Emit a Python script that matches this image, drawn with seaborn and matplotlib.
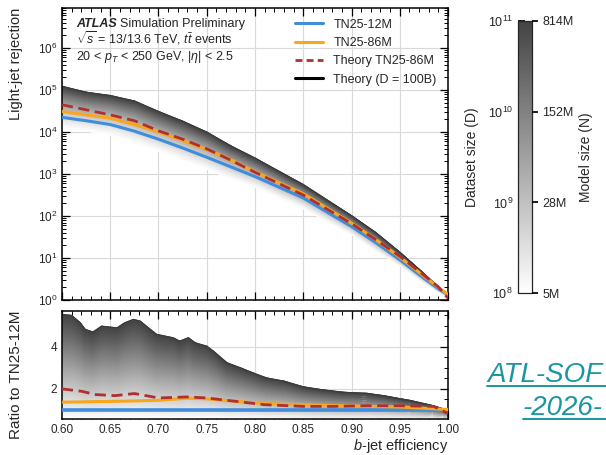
import numpy as np
import pandas as pd
import seaborn as sns
import matplotlib
matplotlib.use("Agg")
from matplotlib import pyplot as plt
from matplotlib.colors import LinearSegmentedColormap, LogNorm
from matplotlib.lines import Line2D
from matplotlib.ticker import MultipleLocator, LogLocator, NullFormatter, NullLocator, FixedLocator

# ---- values ----
eff = [0.60, 0.625, 0.65, 0.675, 0.70, 0.725, 0.75, 0.775, 0.80,
       0.85, 0.90, 0.925, 0.95, 0.975, 0.99, 1.0]
rej_12m = [22400, 18600, 15100, 10500, 6760, 4170, 2510, 1480, 871,
           269, 56, 23.4, 9.1, 3.3, 1.86, 1.32]
rej_86m = [30900, 25700, 21400, 15100, 10000, 6310, 3850, 2190, 1120,
           339, 67.6, 27.5, 10.5, 3.7, 2.0, 1.35]
rej_theory_86m = [44700, 33900, 25700, 18600, 10700, 6760, 3980, 2140, 1100,
                  316, 66, 27.5, 11.0, 3.9, 2.04, 1.10]
rej_theory_100b = [123000, 89000, 74100, 55000, 30900, 18200, 10000, 4680, 2400,
                   562, 102, 40.7, 13.8, 4.27, 2.04, 1.29]
rej_shade_low = [12500, 10500, 8500, 5500, 3500, 2100, 1300, 760, 480,
                 150, 36, 15, 6.5, 2.6, 1.6, 1.25]

ratio_eff_band = [0.600, 0.610, 0.619, 0.624, 0.632, 0.641, 0.657, 0.665, 0.674,
                  0.681, 0.698, 0.715, 0.722, 0.731, 0.738, 0.750, 0.757, 0.771,
                  0.785, 0.798, 0.812, 0.830, 0.850, 0.868, 0.892, 0.916, 0.933,
                  0.961, 0.985, 0.995, 1.0]
ratio_theory_100b = [5.54, 5.49, 5.14, 4.83, 4.70, 4.98, 4.90, 5.14, 5.30,
                     5.22, 4.59, 4.43, 4.27, 4.43, 4.19, 4.03, 3.79, 3.24,
                     3.00, 2.76, 2.52, 2.37, 2.10, 1.97, 1.84, 1.79, 1.68,
                     1.45, 1.20, 1.05, 0.98]
ratio_eff = [0.60, 0.62, 0.635, 0.655, 0.675, 0.70, 0.73, 0.75, 0.78,
             0.81, 0.85, 0.88, 0.915, 0.95, 0.985, 1.0]
ratio_theory_86m = [2.0, 1.89, 1.73, 1.68, 1.78, 1.57, 1.62, 1.57, 1.41,
                    1.25, 1.17, 1.17, 1.2, 1.2, 1.17, 0.83]
ratio_86m = [1.37, 1.38, 1.40, 1.41, 1.43, 1.46, 1.56, 1.53, 1.41,
             1.30, 1.25, 1.21, 1.17, 1.14, 1.06, 1.02]
ratio_12m = [1.0] * len(ratio_eff)
ratio_ticks = [2, 4]

cbar_ticks = [1e8, 1e9, 1e10, 1e11]
model_labels = ["5M", "28M", "152M", "814M"]

BLUE = "#3f8ddc"
ORANGE = "#f9a61c"
RED = "#b0302e"

sns.set_theme(style="ticks")
plt.rcParams["font.family"] = ["Liberation Sans", "DejaVu Sans"]
plt.rcParams["mathtext.fontset"] = "custom"
plt.rcParams["mathtext.rm"] = "Liberation Sans"
plt.rcParams["mathtext.it"] = "Liberation Sans:italic"
plt.rcParams["mathtext.bf"] = "Liberation Sans:bold"

shade = LinearSegmentedColormap.from_list("shade", ["#ffffff", "#434343"])

fig = plt.figure(figsize=(6.06, 4.55), dpi=100)
ax1 = fig.add_axes([0.1023, 0.3407, 0.637, 0.6417])
ax2 = fig.add_axes([0.1023, 0.0791, 0.637, 0.2374], sharex=ax1)
cax = fig.add_axes([0.8545, 0.3554, 0.0231, 0.5991])

# ---- top panel: shaded theory band ----
t = np.linspace(0, 1, 40)[:, None]
lo = np.array(rej_shade_low)[None, :]
hi = np.array(rej_theory_100b)[None, :]
X = np.repeat(np.array(eff)[None, :], len(t), axis=0)
Y = lo * (hi / lo) ** t
ax1.pcolormesh(X, Y, np.repeat(t ** 1.3, len(eff), axis=1), cmap=shade,
               shading="gouraud", vmin=0, vmax=1, zorder=1, rasterized=True)
ax1.plot(eff, rej_theory_100b, color="#3a3a3a", lw=0.8, zorder=2)

top = pd.DataFrame({"eff": eff, "12m": rej_12m, "86m": rej_86m, "th86": rej_theory_86m})
sns.lineplot(data=top, x="eff", y="12m", ax=ax1, color=BLUE, lw=2.2, zorder=4)
sns.lineplot(data=top, x="eff", y="86m", ax=ax1, color=ORANGE, lw=2.2, zorder=5)
sns.lineplot(data=top, x="eff", y="th86", ax=ax1, color=RED, lw=2.0,
             linestyle=(0, (4, 2)), zorder=6)

ax1.set_yscale("log")
ax1.set_ylim(1, 9e6)
ax1.set_xlim(0.6, 1.0)
ax1.yaxis.set_major_locator(LogLocator(base=10, numticks=10))
ax1.yaxis.set_minor_locator(LogLocator(base=10, subs=np.arange(2, 10), numticks=20))
ax1.yaxis.set_minor_formatter(NullFormatter())
ax1.set_xlabel("")
ax1.set_ylabel("Light-jet rejection", loc="top", fontsize=10.5)
ax1.tick_params(labelbottom=False)

ax1.text(0.036, 0.935, "ATLAS", transform=ax1.transAxes, fontsize=9,
         fontweight="bold", fontstyle="italic", va="baseline")
ax1.text(0.150, 0.935, "Simulation Preliminary", transform=ax1.transAxes,
         fontsize=9, va="baseline")
ax1.text(0.036, 0.877, r"$\sqrt{s}$ = 13/13.6 TeV, $t\bar{t}$ events",
         transform=ax1.transAxes, fontsize=9, va="baseline")
ax1.text(0.036, 0.822, r"20 < $p_T$ < 250 GeV, |$\eta$| < 2.5",
         transform=ax1.transAxes, fontsize=9, va="baseline")

handles = [Line2D([], [], color=BLUE, lw=2.2),
           Line2D([], [], color=ORANGE, lw=2.2),
           Line2D([], [], color=RED, lw=2.0, linestyle=(0, (2.5, 1.5))),
           Line2D([], [], color="black", lw=2.2)]
labels = ["TN25-12M", "TN25-86M", "Theory TN25-86M", "Theory (D = 100B)"]
ax1.legend(handles, labels, loc="upper left", bbox_to_anchor=(0.59, 0.98),
           frameon=False, fontsize=9, handlelength=2.3, borderaxespad=0)

# ---- ratio panel ----
tr = np.linspace(0, 1, 40)[:, None]
rhi = np.array(ratio_theory_100b)[None, :]
Xr = np.repeat(np.array(ratio_eff_band)[None, :], len(tr), axis=0)
Yr = 0.57 + (rhi - 0.57) * tr
ax2.pcolormesh(Xr, Yr, np.repeat(tr, len(ratio_eff_band), axis=1), cmap=shade,
               shading="gouraud", vmin=0, vmax=1, zorder=1, rasterized=True)
ax2.plot(ratio_eff_band, ratio_theory_100b, color="#3a3a3a", lw=0.8, zorder=2)

bot = pd.DataFrame({"eff": ratio_eff, "12m": ratio_12m, "86m": ratio_86m,
                    "th86": ratio_theory_86m})
sns.lineplot(data=bot, x="eff", y="12m", ax=ax2, color=BLUE, lw=2.6, zorder=4)
sns.lineplot(data=bot, x="eff", y="86m", ax=ax2, color=ORANGE, lw=2.2, zorder=5)
sns.lineplot(data=bot, x="eff", y="th86", ax=ax2, color=RED, lw=2.0,
             linestyle=(0, (4, 2)), zorder=6)

ax2.set_ylim(0.57, 5.7)
ax2.yaxis.set_major_locator(FixedLocator(ratio_ticks))
ax2.yaxis.set_minor_locator(MultipleLocator(0.5))
ax2.set_ylabel("Ratio to TN25-12M", loc="top", fontsize=11)
ax2.set_xlabel("$b$-jet efficiency", loc="right", fontsize=10.5, labelpad=1)
ax2.xaxis.set_major_locator(MultipleLocator(0.05))
ax2.xaxis.set_minor_locator(MultipleLocator(0.01))
ax2.xaxis.set_major_formatter(matplotlib.ticker.FormatStrFormatter("%.2f"))

for ax in (ax1, ax2):
    ax.grid(True, which="major", color="#d9d9d9", lw=0.8)
    ax.set_axisbelow(True)
    ax.tick_params(which="both", direction="in", top=True, right=True,
                   labelsize=8.5, color="black")
    ax.tick_params(which="major", length=6, width=0.9)
    ax.tick_params(which="minor", length=3, width=0.7)
    for s in ax.spines.values():
        s.set_color("black")
        s.set_linewidth(1.1)

# both y labels on the same vertical line
ax1.yaxis.set_label_coords(-0.10, 1.0)
ax2.yaxis.set_label_coords(-0.10, 1.0)

# ---- colour bar ----
sm = plt.cm.ScalarMappable(norm=LogNorm(1e8, 1e11), cmap=shade)
cb = fig.colorbar(sm, cax=cax)
cb.outline.set_linewidth(0.9)
cb.set_ticks(cbar_ticks)
cax.yaxis.set_ticks_position("left")
cax.yaxis.set_label_position("left")
cax.tick_params(which="both", direction="in", labelsize=9, color="black")
cax.tick_params(which="major", length=5)
cax.tick_params(which="minor", length=2.5)
cb.set_label("Dataset size (D)", fontsize=10, labelpad=6)

cax_r = cax.twinx()
cax_r.set_yscale("log")
cax_r.set_ylim(1e8, 1e11)
cax_r.set_yticks(cbar_ticks, labels=model_labels)
cax_r.yaxis.set_minor_locator(NullLocator())
cax_r.tick_params(direction="out", length=4, labelsize=9, color="black")
cax_r.set_ylabel("Model size (N)", fontsize=10, labelpad=4)
for s in cax_r.spines.values():
    s.set_visible(False)

# ---- document reference link ----
TEAL = "#1b96a0"
fig.text(487 / 606, 1 - 382 / 455, "ATL-SOF", fontsize=20, fontstyle="italic",
         color=TEAL, va="baseline")
fig.text(523 / 606, 1 - 415 / 455, "-2026-", fontsize=20, fontstyle="italic",
         color=TEAL, va="baseline")
fig.add_artist(Line2D([487 / 606, 1.0], [1 - 386 / 455] * 2, color=TEAL, lw=1.4,
                      transform=fig.transFigure))
fig.add_artist(Line2D([523 / 606, 1.0], [1 - 419 / 455] * 2, color=TEAL, lw=1.4,
                      transform=fig.transFigure))

fig.savefig("out.png", dpi=100)
